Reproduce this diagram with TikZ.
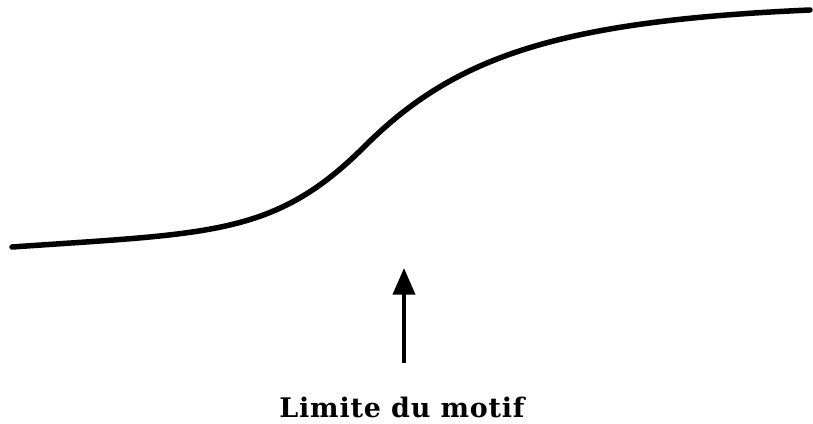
\documentclass[tikz,border=0pt]{standalone}
\usepackage{fontspec}
\setmainfont{DejaVu Serif}
\usetikzlibrary{arrows.meta,positioning}

\begin{document}
\begin{tikzpicture}[x=0.03cm, y=-0.03cm,
  every node/.style={font=\fontsize{23}{28}\selectfont\bfseries\addfontfeatures{LetterSpace=3}},
  profil/.style={line width=4.7pt, line cap=round},
  fleche/.style={line width=3.4pt, -{Triangle[length=0.8cm,width=0.66cm]}}]
  \useasboundingbox (0,0) rectangle (813,424);

  % profil du motif
  \coordinate (debut) at (12,247);
  \coordinate (inflexion) at (365,146);
  \coordinate (fin) at (810,10);
  \draw[profil] (debut) .. controls (212,233) and (275,236) .. (inflexion)
                        .. controls (455,56) and (560,21) .. (fin);

  % fleche et legende
  \coordinate (base) at (404,363);
  \coordinate (pointe) at (404,268);
  \draw[fleche] (base) -- (pointe);
  \node[anchor=base] (legende) at (402,417) {Limite du motif};
\end{tikzpicture}
\end{document}
